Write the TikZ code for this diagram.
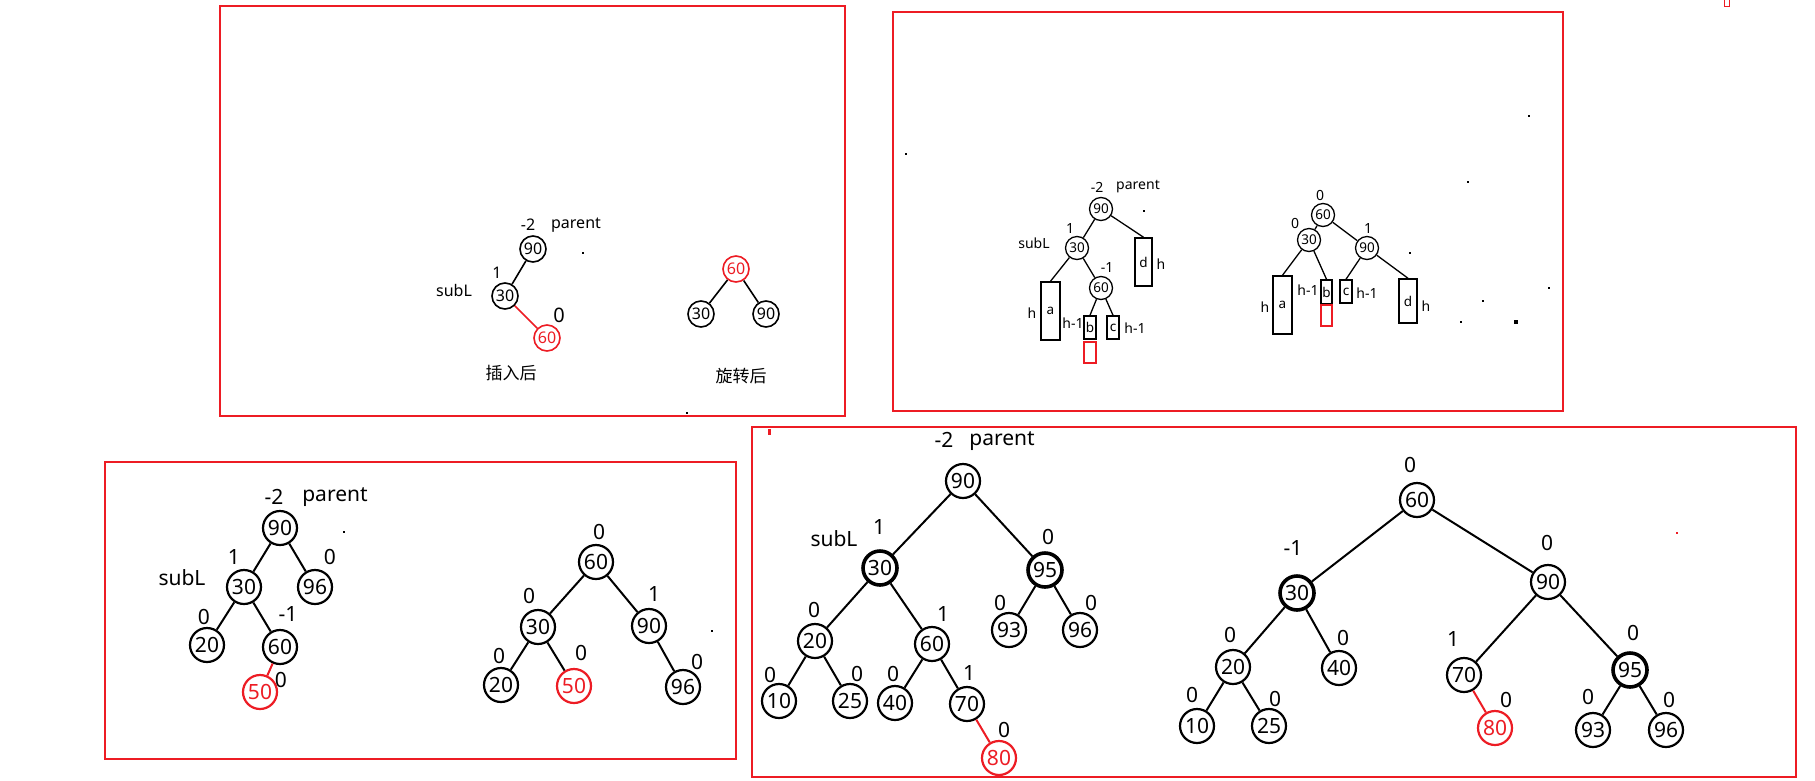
\documentclass[tikz,border=0pt]{standalone}
\usepackage{fontspec}
\setmainfont{Noto Sans}
\newfontfamily\cjk{Noto Sans CJK SC}
\definecolor{pred}{RGB}{237,28,36}
\tikzset{
  every node/.style={inner sep=0pt},
  frame/.style={draw=pred,line width=2.2pt},
  % tree nodes of the three sizes used
  bignode/.style={circle,draw,line width=2.2pt,minimum size=34pt,font=\fontsize{21}{21}\selectfont},
  midnode/.style={circle,draw,line width=1.6pt,minimum size=26pt,font=\fontsize{16}{16}\selectfont},
  tinynode/.style={circle,draw,line width=1.3pt,minimum size=23pt,font=\fontsize{13.5}{13.5}\selectfont},
  heavy/.style={line width=3.6pt},
  hot/.style={draw=pred,text=pred},
  % subtree boxes
  box/.style={rectangle,draw,line width=1.5pt,font=\fontsize{13.5}{13.5}\selectfont},
  hotbox/.style={rectangle,draw=pred,line width=1.5pt},
  % connectors
  link/.style={line width=2pt},
  linkm/.style={line width=1.6pt},
  links/.style={line width=1.3pt},
  % labels
  lbig/.style={font=\fontsize{21}{21}\selectfont},
  lmid/.style={font=\fontsize{16}{16}\selectfont},
  lsmall/.style={font=\fontsize{14}{14}\selectfont},
  cn/.style={font=\cjk\fontsize{17}{17}\selectfont},
  speck/.style={fill,inner sep=0pt,minimum size=2.5pt,rectangle}
}
\begin{document}
\begin{tikzpicture}[x=1pt,y=-1pt]
\useasboundingbox (0,0) rectangle (1815,780);
\fill[white] (0,0) rectangle (1815,780);

% ---------- frames ----------
\draw[frame] (220,6) rectangle (845,416);
\draw[frame] (893,12) rectangle (1563,411);
\draw[frame] (105,462) rectangle (736,759);
\draw[frame] (752,427) rectangle (1796,777);

% ---------- panel 1: simple right rotation ----------
\node[midnode] (a90) at (533,249) {90};
\node[midnode] (a30) at (505,296) {30};
\node[midnode,hot] (a60) at (547,338) {60};
\draw[linkm] (a90) -- (a30);
\draw[linkm,pred] (a30) -- (a60);
\node[lmid] at (528,225) {-2};
\node[lmid] at (576,225) {parent};
\node[lmid] at (497,273) {1};
\node[lmid] at (454,290) {subL};
\node[font=\fontsize{20}{20}\selectfont] at (559,315) {0};
\node[cn] at (511,373) {插入后};
\node[speck,minimum size=2pt] at (583,253) {};

\node[midnode,hot] (b60) at (736,269) {60};
\node[midnode] (b30) at (701,314) {30};
\node[midnode] (b90) at (766,314) {90};
\draw[linkm] (b60) -- (b30);
\draw[linkm] (b60) -- (b90);
\node[cn] at (741,376) {旋转后};
\node[speck] at (687,413) {};

% ---------- panel 2: abstract subtrees ----------
\node[tinynode] (c90) at (1101,209) {90};
\node[tinynode] (c30) at (1077,248) {30};
\node[tinynode] (c60) at (1101,288) {60};
\node[box,minimum width=19pt,minimum height=58pt] (ca) at (1050.5,311) {a};
\node[box,minimum width=12pt,minimum height=23pt] (cb) at (1090,327.5) {b};
\node[hotbox,minimum width=12pt,minimum height=21pt] (cr) at (1090,352.5) {};
\node[box,minimum width=12pt,minimum height=23pt] (cc) at (1113,327.5) {c};
\node[box,minimum width=17pt,minimum height=48pt] (cd) at (1143.5,262) {d};
\draw[links] (c90) -- (cd.north);
\draw[links] (c90) -- (c30);
\draw[links] (c30) -- (ca.north);
\draw[links] (c30) -- (c60);
\draw[links] (c60) -- (cb.north);
\draw[links] (c60) -- (cc.north);
\node[lsmall] at (1097,187) {-2};
\node[lsmall] at (1138,187) {parent};
\node[lsmall] at (1070,228) {1};
\node[lsmall] at (1034,243) {subL};
\node[lsmall] at (1107,267) {-1};
\node[lsmall] at (1161,264) {h};
\node[lsmall] at (1032,313) {h};
\node[lsmall] at (1073,323) {h-1};
\node[lsmall] at (1135,328) {h-1};
\node[speck,minimum size=2pt] at (1144,211) {};

\node[tinynode] (d60) at (1323,215) {60};
\node[tinynode] (d30) at (1309,240) {30};
\node[tinynode] (d90) at (1367,248) {90};
\node[box,minimum width=19pt,minimum height=58pt] (da) at (1282.5,305) {a};
\node[box,minimum width=11pt,minimum height=24pt] (db) at (1326.5,292) {b};
\node[hotbox,minimum width=11pt,minimum height=21pt] (dr) at (1326.5,315.5) {};
\node[box,minimum width=12pt,minimum height=23pt] (dc) at (1346,291.5) {c};
\node[box,minimum width=18pt,minimum height=44pt] (dd) at (1408,301) {d};
\draw[links] (d60) -- (d30);
\draw[links] (d60) -- (d90);
\draw[links] (d30) -- (da.north);
\draw[links] (d30) -- (db.north);
\draw[links] (d90) -- (dc.north);
\draw[links] (d90) -- (dd.north);
\node[lsmall] at (1320,195) {0};
\node[lsmall] at (1295,223) {0};
\node[lsmall] at (1368,228) {1};
\node[lsmall] at (1265,307) {h};
\node[lsmall] at (1308,290) {h-1};
\node[lsmall] at (1367,293) {h-1};
\node[lsmall] at (1426,306) {h};
\node[speck,minimum size=2pt] at (1410,253) {};
% small pen marks
\node[speck] at (906,154) {};
\node[speck] at (1529,116) {};
\node[speck] at (1468,182) {};
\node[speck] at (1549,288) {};
\node[speck] at (1483,301) {};
\node[speck] at (1461,322) {};
\node[speck,minimum size=3.5pt] at (1516,322) {};

% ---------- panel 3: small concrete example ----------
\node[bignode] (e90) at (280,528) {90};
\node[bignode] (e30) at (244,587) {30};
\node[bignode] (e96) at (315,587) {96};
\node[bignode] (e20) at (207,645) {20};
\node[bignode] (e60) at (280,647) {60};
\node[bignode,hot] (e50) at (260,692) {50};
\draw[link] (e90) -- (e30);
\draw[link] (e90) -- (e96);
\draw[link] (e30) -- (e20);
\draw[link] (e30) -- (e60);
\draw[link,pred] (e60) -- (e50);
\node[lbig] at (274,497) {-2};
\node[lbig] at (335,497) {parent};
\node[lbig] at (234,557) {1};
\node[lbig] at (330,557) {0};
\node[lbig] at (182,578) {subL};
\node[lbig] at (204,617) {0};
\node[lbig] at (288,614) {-1};
\node[lbig] at (281,680) {0};
\node[speck] at (344,532) {};

\node[bignode] (f60) at (596,562) {60};
\node[bignode] (f30) at (538,627) {30};
\node[bignode] (f90) at (649,626) {90};
\node[bignode] (f20) at (501,685) {20};
\node[bignode,hot] (f50) at (574,686) {50};
\node[bignode] (f96) at (683,687) {96};
\draw[link] (f60) -- (f30);
\draw[link] (f60) -- (f90);
\draw[link] (f30) -- (f20);
\draw[link] (f30) -- (f50);
\draw[link] (f90) -- (f96);
\node[lbig] at (599,532) {0};
\node[lbig] at (529,596) {0};
\node[lbig] at (654,594) {1};
\node[lbig] at (499,656) {0};
\node[lbig] at (581,653) {0};
\node[lbig] at (697,662) {0};
\node[speck] at (712,631) {};

% ---------- panel 4: larger concrete example ----------
\node[bignode] (g90) at (963,481) {90};
\node[bignode,heavy] (g30) at (880,568) {30};
\node[bignode,heavy] (g95) at (1045,570) {95};
\node[bignode] (g20) at (815,641) {20};
\node[bignode] (g60) at (932,644) {60};
\node[bignode] (g93) at (1009,630) {93};
\node[bignode] (g96) at (1080,630) {96};
\node[bignode] (g10) at (779,701) {10};
\node[bignode] (g25) at (850,701) {25};
\node[bignode] (g40) at (895,703) {40};
\node[bignode] (g70) at (967,704) {70};
\node[bignode,hot] (g80) at (999,758) {80};
\draw[link] (g90) -- (g30);
\draw[link] (g90) -- (g95);
\draw[link] (g30) -- (g20);
\draw[link] (g30) -- (g60);
\draw[link] (g95) -- (g93);
\draw[link] (g95) -- (g96);
\draw[link] (g20) -- (g10);
\draw[link] (g20) -- (g25);
\draw[link] (g60) -- (g40);
\draw[link] (g60) -- (g70);
\draw[link,pred] (g70) -- (g80);
\node[lbig] at (944,440) {-2};
\node[lbig] at (1002,441) {parent};
\node[lbig] at (879,527) {1};
\node[lbig] at (834,539) {subL};
\node[lbig] at (1048,537) {0};
\node[lbig] at (814,610) {0};
\node[lbig] at (943,614) {1};
\node[lbig] at (1000,603) {0};
\node[lbig] at (1091,603) {0};
\node[lbig] at (770,675) {0};
\node[lbig] at (857,674) {0};
\node[lbig] at (893,674) {0};
\node[lbig] at (969,673) {1};
\node[lbig] at (1004,730) {0};
\node[speck,pred,minimum width=3pt,minimum height=6pt] at (769,432) {};

\node[bignode] (h60) at (1417,500) {60};
\node[bignode,heavy] (h30) at (1297,593) {30};
\node[bignode] (h90) at (1548,582) {90};
\node[bignode] (h20) at (1233,667) {20};
\node[bignode] (h40) at (1339,668) {40};
\node[bignode] (h70) at (1464,675) {70};
\node[bignode,heavy] (h95) at (1630,670) {95};
\node[bignode] (h10) at (1197,726) {10};
\node[bignode] (h25) at (1269,726) {25};
\node[bignode,hot] (h80) at (1495,728) {80};
\node[bignode] (h93) at (1593,730) {93};
\node[bignode] (h96) at (1666,730) {96};
\draw[link] (h60) -- (h30);
\draw[link] (h60) -- (h90);
\draw[link] (h30) -- (h20);
\draw[link] (h30) -- (h40);
\draw[link] (h90) -- (h70);
\draw[link] (h90) -- (h95);
\draw[link] (h20) -- (h10);
\draw[link] (h20) -- (h25);
\draw[link,pred] (h70) -- (h80);
\draw[link] (h95) -- (h93);
\draw[link] (h95) -- (h96);
\node[lbig] at (1410,465) {0};
\node[lbig] at (1293,548) {-1};
\node[lbig] at (1547,543) {0};
\node[lbig] at (1230,635) {0};
\node[lbig] at (1343,638) {0};
\node[lbig] at (1453,639) {1};
\node[lbig] at (1633,633) {0};
\node[lbig] at (1192,695) {0};
\node[lbig] at (1275,699) {0};
\node[lbig] at (1506,700) {0};
\node[lbig] at (1588,697) {0};
\node[lbig] at (1669,700) {0};
\node[speck,pred] at (1677,533) {};
\node[draw=pred,line width=1pt,minimum width=5pt,minimum height=7pt] at (1727,3) {};
\end{tikzpicture}
\end{document}
